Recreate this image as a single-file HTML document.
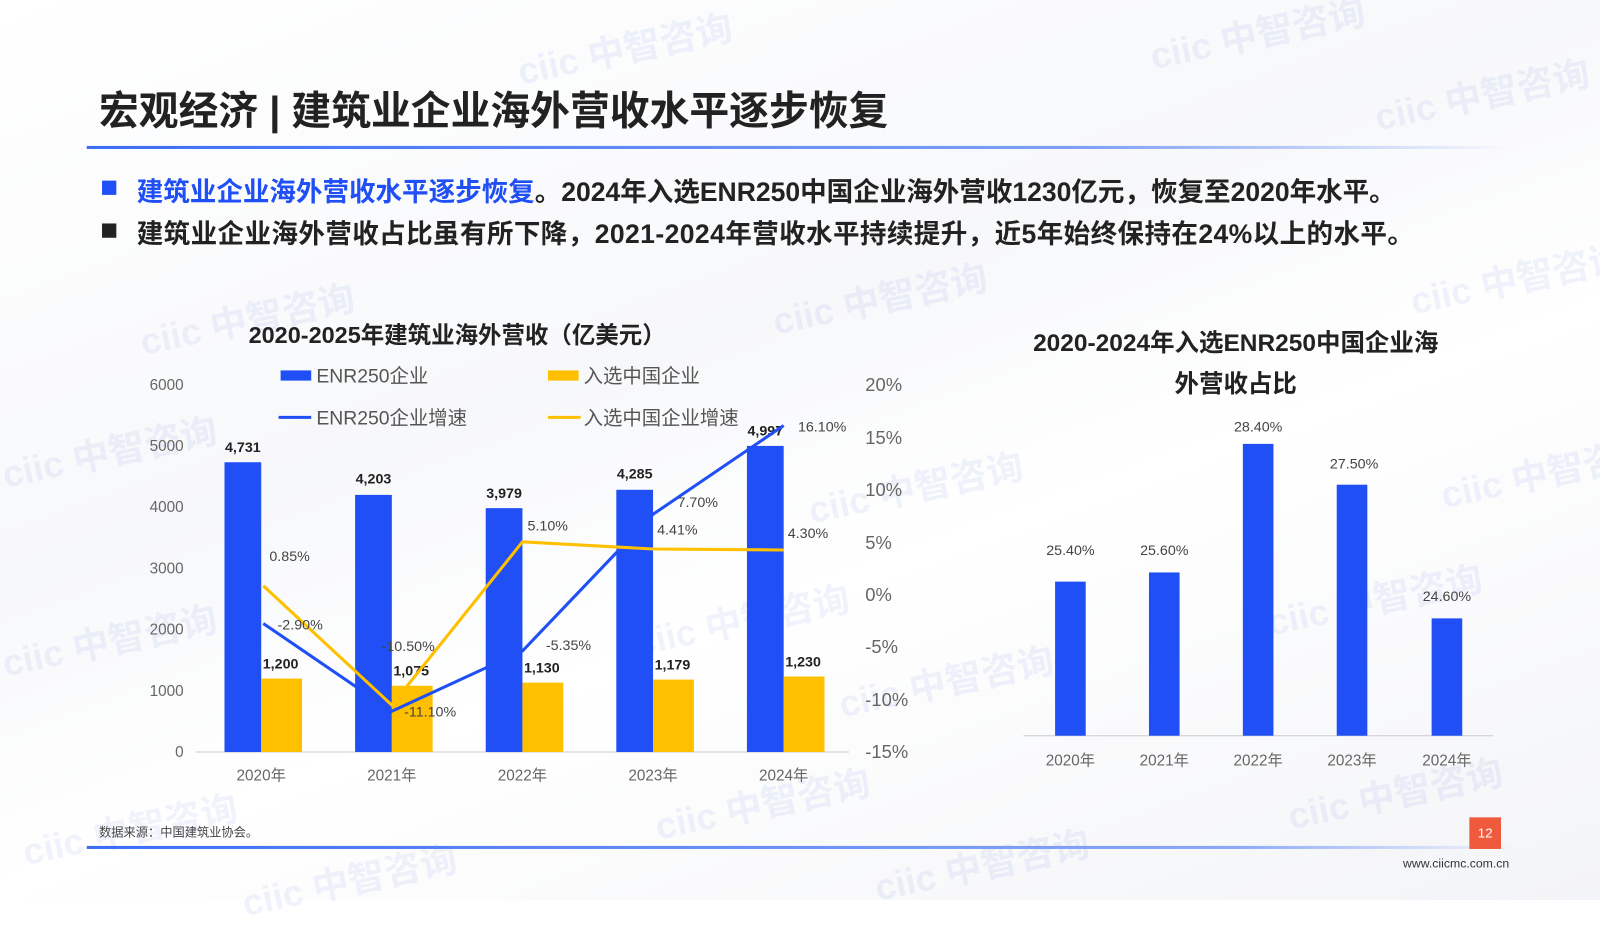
<!DOCTYPE html>
<html><head><meta charset="utf-8"><style>
html,body{margin:0;padding:0;width:1600px;height:900px;overflow:hidden;background:#fff}
#s{position:absolute;left:0;top:0;width:1568px;height:882px;transform:scale(1.0204);transform-origin:0 0;font-family:"Liberation Sans","Noto Sans CJK SC",sans-serif;background:linear-gradient(160deg,#fff 0%,#f7f8fa 40%,#fff 60%,#f3f4f7 100%)}
.t{position:absolute;white-space:nowrap}
.wm{position:absolute;color:rgba(120,150,230,0.11);font-size:36px;font-weight:bold;transform:rotate(-12deg);white-space:nowrap}
</style></head><body><div id="s">
<div class="wm" style="left:505px;top:20px">ciic 中智咨询</div>
<div class="wm" style="left:1125px;top:5px">ciic 中智咨询</div>
<div class="wm" style="left:1345px;top:65px">ciic 中智咨询</div>
<div class="wm" style="left:135px;top:285px">ciic 中智咨询</div>
<div class="wm" style="left:755px;top:265px">ciic 中智咨询</div>
<div class="wm" style="left:1380px;top:245px">ciic 中智咨询</div>
<div class="wm" style="left:0px;top:415px">ciic 中智咨询</div>
<div class="wm" style="left:790px;top:450px">ciic 中智咨询</div>
<div class="wm" style="left:1410px;top:435px">ciic 中智咨询</div>
<div class="wm" style="left:0px;top:600px">ciic 中智咨询</div>
<div class="wm" style="left:620px;top:580px">ciic 中智咨询</div>
<div class="wm" style="left:1240px;top:560px">ciic 中智咨询</div>
<div class="wm" style="left:820px;top:640px">ciic 中智咨询</div>
<div class="wm" style="left:20px;top:785px">ciic 中智咨询</div>
<div class="wm" style="left:640px;top:760px">ciic 中智咨询</div>
<div class="wm" style="left:1260px;top:750px">ciic 中智咨询</div>
<div class="wm" style="left:235px;top:835px">ciic 中智咨询</div>
<div class="wm" style="left:855px;top:820px">ciic 中智咨询</div>

<div class="t" style="left:97px;top:78px;font-size:39px;font-weight:bold;color:#222">宏观经济 | 建筑业企业海外营收水平逐步恢复</div>
<div style="position:absolute;left:85px;top:143px;width:1400px;height:3px;background:linear-gradient(90deg,#3b6ef5,#7fa0f7 70%,rgba(255,255,255,0))"></div>
<div style="position:absolute;left:100px;top:177px;width:14px;height:14px;background:#1f4ff5"></div>
<div class="t" style="left:134px;top:168px;font-size:26px;font-weight:bold;color:#222"><span style="color:#1f4ff5">建筑业企业海外营收水平逐步恢复</span>。2024年入选ENR250中国企业海外营收1230亿元，恢复至2020年水平。</div>
<div style="position:absolute;left:100px;top:219px;width:14px;height:14px;background:#222"></div>
<div class="t" style="left:134px;top:209px;font-size:26px;font-weight:bold;color:#222;letter-spacing:0.4px">建筑业企业海外营收占比虽有所下降，2021-2024年营收水平持续提升，近5年始终保持在24%以上的水平。</div>

<svg style="position:absolute;left:0;top:0" width="1568" height="882" font-family="Liberation Sans, Noto Sans CJK SC, sans-serif">
<text x="448" y="336" font-size="23" font-weight="bold" text-anchor="middle" fill="#222">2020-2025年建筑业海外营收（亿美元）</text>
<rect x="275" y="363" width="30" height="10" fill="#1f4ff5"/><text x="310" y="375" font-size="19" fill="#555">ENR250企业</text>
<rect x="537" y="363" width="30" height="10" fill="#ffc000"/><text x="572" y="375" font-size="19" fill="#555">入选中国企业</text>
<line x1="273" y1="409" x2="305" y2="409" stroke="#1f4ff5" stroke-width="3"/><text x="310" y="416" font-size="19" fill="#555">ENR250企业增速</text>
<line x1="537" y1="409" x2="569" y2="409" stroke="#ffc000" stroke-width="3"/><text x="572" y="416" font-size="19" fill="#555">入选中国企业增速</text>
<g font-size="15" fill="#666" text-anchor="end">
<text x="180" y="382">6000</text><text x="180" y="442">5000</text><text x="180" y="502">4000</text><text x="180" y="562">3000</text><text x="180" y="622">2000</text><text x="180" y="682">1000</text><text x="180" y="742">0</text></g>
<g font-size="18" fill="#666">
<text x="848" y="383">20%</text><text x="848" y="435">15%</text><text x="848" y="486">10%</text><text x="848" y="538">5%</text><text x="848" y="589">0%</text><text x="848" y="640">-5%</text><text x="848" y="692">-10%</text><text x="848" y="743">-15%</text></g>
<line x1="192" y1="737" x2="832" y2="737" stroke="#ccc"/>
<g fill="#1f4ff5"><rect x="220" y="453" width="36" height="284"/><rect x="348" y="485" width="36" height="252"/><rect x="476" y="498" width="36" height="239"/><rect x="604" y="480" width="36" height="257"/><rect x="732" y="437" width="36" height="300"/></g>
<g fill="#ffc000"><rect x="256" y="665" width="40" height="72"/><rect x="384" y="672" width="40" height="65"/><rect x="512" y="669" width="40" height="68"/><rect x="640" y="666" width="40" height="71"/><rect x="768" y="663" width="40" height="74"/></g>
<g font-size="14" font-weight="bold" fill="#222" text-anchor="middle">
<text x="238" y="443">4,731</text><text x="366" y="474">4,203</text><text x="494" y="488">3,979</text><text x="622" y="469">4,285</text><text x="750" y="427">4,997</text>
<text x="275" y="655">1,200</text><text x="403" y="662">1,075</text><text x="531" y="659">1,130</text><text x="659" y="656">1,179</text><text x="787" y="653">1,230</text></g>
<polyline points="258,611 384,697 512,638 640,504 768,417" fill="none" stroke="#1f4ff5" stroke-width="3"/>
<polyline points="258,574 384,691 512,531 640,538 768,539" fill="none" stroke="#ffc000" stroke-width="3"/>
<g font-size="14" fill="#444">
<text x="264" y="550">0.85%</text><text x="272" y="617">-2.90%</text><text x="374" y="638">-10.50%</text><text x="396" y="702">-11.10%</text><text x="517" y="520">5.10%</text><text x="535" y="637">-5.35%</text><text x="664" y="497">7.70%</text><text x="644" y="524">4.41%</text><text x="772" y="527">4.30%</text><text x="782" y="423">16.10%</text></g>
<g font-size="15" fill="#666" text-anchor="middle"><text x="256" y="765">2020年</text><text x="384" y="765">2021年</text><text x="512" y="765">2022年</text><text x="640" y="765">2023年</text><text x="768" y="765">2024年</text></g>

<text x="1211" y="344" font-size="24" font-weight="bold" text-anchor="middle" fill="#222">2020-2024年入选ENR250中国企业海</text>
<text x="1211" y="384" font-size="24" font-weight="bold" text-anchor="middle" fill="#222">外营收占比</text>
<line x1="1003" y1="721" x2="1463" y2="721" stroke="#ccc"/>
<g fill="#1f4ff5"><rect x="1034" y="570" width="30" height="151"/><rect x="1126" y="561" width="30" height="160"/><rect x="1218" y="435" width="30" height="286"/><rect x="1310" y="475" width="30" height="246"/><rect x="1403" y="606" width="30" height="115"/></g>
<g font-size="14" fill="#444" text-anchor="middle"><text x="1049" y="544">25.40%</text><text x="1141" y="544">25.60%</text><text x="1233" y="423">28.40%</text><text x="1327" y="459">27.50%</text><text x="1418" y="589">24.60%</text></g>
<g font-size="15" fill="#666" text-anchor="middle"><text x="1049" y="750">2020年</text><text x="1141" y="750">2021年</text><text x="1233" y="750">2022年</text><text x="1325" y="750">2023年</text><text x="1418" y="750">2024年</text></g>
</svg>
<div class="t" style="left:97px;top:807px;font-size:12px;color:#444">数据来源：中国建筑业协会。</div>
<div style="position:absolute;left:85px;top:829px;width:1400px;height:3px;background:linear-gradient(90deg,#3b6ef5,#8aa8f7 80%,rgba(255,255,255,0))"></div>
<div class="t" style="left:1440px;top:801px;width:31px;height:31px;background:#f05a3c;color:#fff;font-size:13px;text-align:center;line-height:31px">12</div>
<div class="t" style="left:1375px;top:839px;font-size:12px;color:#333">www.ciicmc.com.cn</div>
</div></body></html>
